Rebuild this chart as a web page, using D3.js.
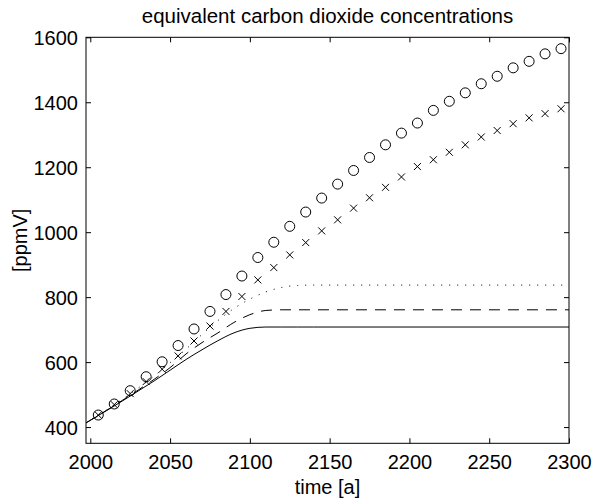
<!DOCTYPE html>
<html>
<head>
<meta charset="utf-8">
<script src="https://cdn.jsdelivr.net/npm/d3@7"></script>
<style>
  body { margin: 0; background: #fff; }
  svg { display: block; font-family: "Liberation Sans", Arial, Helvetica, sans-serif; }
</style>
</head>
<body>
<svg></svg>
<script>
// marker series, one point every 10 years
const markerYears = [2005, 2015, 2025, 2035, 2045, 2055, 2065, 2075, 2085, 2095,
                     2105, 2115, 2125, 2135, 2145, 2155, 2165, 2175, 2185, 2195,
                     2205, 2215, 2225, 2235, 2245, 2255, 2265, 2275, 2285, 2295];
const circleValues = [437, 471, 512, 555, 601, 651, 702, 756, 808, 865,
                      922, 969, 1018, 1062, 1105, 1148, 1190, 1230, 1269, 1305,
                      1336, 1375, 1403, 1429, 1457, 1480, 1506, 1526, 1549, 1565];
const crossValues = [437, 469, 503, 540, 578, 619, 665, 711, 756, 802,
                     853, 891, 930, 968, 1004, 1038, 1074, 1106, 1138, 1170,
                     1202, 1223, 1246, 1269, 1293, 1313, 1334, 1352, 1365, 1380];

// line series
const lineYears = [1997, 2010, 2020, 2030, 2040, 2050, 2060, 2070, 2080, 2090,
                   2100, 2110, 2120, 2130, 2140, 2300];
const solidValues = [412, 450, 480, 511, 542, 575, 608, 638, 666, 690,
                     704, 708, 708, 708, 708, 708];
const dashedValues = [412, 451, 482, 514, 547, 583, 625, 660, 690, 722,
                      746, 759, 761, 761, 761, 761];
const dottedValues = [412, 452, 485, 520, 557, 598, 640, 685, 728, 765,
                      794, 816, 830, 836, 837, 837];

const xTicks = [2000, 2050, 2100, 2150, 2200, 2250, 2300];
const yTicks = [400, 600, 800, 1000, 1200, 1400, 1600];

const titleText = "equivalent carbon dioxide concentrations";
const xLabel = "time [a]";
const yLabel = "[ppmV]";

drawChart();

function drawChart(){
    const width = 593;
    const height = 499;
    const left = 86, right = 569, top = 37.3, bottom = 443.3;
    const tickLen = 5;
    const fontSize = 20;

    const svg = d3.select("svg")
                    .attr("width", width)
                    .attr("height", height);

    const x = d3.scaleLinear()
                .domain([1997.3, 2300])
                .range([left, right]);

    const y = d3.scaleLinear()
                .domain([350, 1600])
                .range([bottom, top]);

    svg.append("clipPath")
        .attr("id", "plot-clip")
        .append("rect")
        .attr("x", left)
        .attr("y", top)
        .attr("width", right - left)
        .attr("height", bottom - top);

    //axes with inward ticks on all four sides
    const axisStyle = g => {
        g.select(".domain").remove();
        g.selectAll("line").attr("stroke", "#000").attr("stroke-width", 1);
        g.selectAll("text").attr("fill", "#000").style("font-size", fontSize + "px").attr("font-family", null);
    };

    svg.append("g")
        .attr("transform", `translate(0, ${bottom})`)
        .call(d3.axisBottom(x).tickValues(xTicks).tickFormat(d3.format("d")).tickSize(-tickLen).tickPadding(10))
        .call(axisStyle)
        .selectAll("text")
        .attr("y", 25.5)
        .attr("dy", null);

    svg.append("g")
        .attr("transform", `translate(0, ${top})`)
        .call(d3.axisTop(x).tickValues(xTicks).tickSize(-tickLen).tickFormat(""))
        .call(axisStyle);

    svg.append("g")
        .attr("transform", `translate(${left}, 0)`)
        .call(d3.axisLeft(y).tickValues(yTicks).tickFormat(d3.format("d")).tickSize(-tickLen).tickPadding(8))
        .call(axisStyle)
        .selectAll("text")
        .attr("dy", "0.36em");

    svg.append("g")
        .attr("transform", `translate(${right}, 0)`)
        .call(d3.axisRight(y).tickValues(yTicks).tickSize(-tickLen).tickFormat(""))
        .call(axisStyle);

    //box around the plot
    svg.append("rect")
        .attr("x", left)
        .attr("y", top)
        .attr("width", right - left)
        .attr("height", bottom - top)
        .attr("fill", "none")
        .attr("stroke", "#000")
        .attr("stroke-width", 1);

    //lines
    const line = d3.line()
                    .x(d => x(d[0]))
                    .y(d => y(d[1]))
                    .curve(d3.curveMonotoneX);

    const lines = [
        {values: solidValues, dash: null},
        {values: dashedValues, dash: "11,8"},
        {values: dottedValues, dash: "1,7"}
    ];

    const plot = svg.append("g").attr("clip-path", "url(#plot-clip)");

    plot.selectAll("path.series")
        .data(lines)
        .enter()
        .append("path")
        .attr("class", "series")
        .attr("d", d => line(lineYears.map((yr, i) => [yr, d.values[i]])))
        .attr("fill", "none")
        .attr("stroke", "#000")
        .attr("stroke-width", 1)
        .attr("stroke-dasharray", d => d.dash);

    //circle markers
    plot.selectAll("circle.o")
        .data(markerYears.map((yr, i) => [yr, circleValues[i]]))
        .enter()
        .append("circle")
        .attr("class", "o")
        .attr("cx", d => x(d[0]))
        .attr("cy", d => y(d[1]))
        .attr("r", 5)
        .attr("fill", "none")
        .attr("stroke", "#000")
        .attr("stroke-width", 1);

    //cross markers
    const s = 3.5;
    plot.selectAll("path.x")
        .data(markerYears.map((yr, i) => [yr, crossValues[i]]))
        .enter()
        .append("path")
        .attr("class", "x")
        .attr("d", d => {
            const cx = x(d[0]), cy = y(d[1]);
            return `M${cx - s},${cy - s}L${cx + s},${cy + s}M${cx - s},${cy + s}L${cx + s},${cy - s}`;
        })
        .attr("stroke", "#000")
        .attr("stroke-width", 1);

    //title and axis labels
    svg.append("text")
        .attr("x", (left + right) / 2)
        .attr("y", 23)
        .attr("text-anchor", "middle")
        .style("font-size", "20.5px")
        .text(titleText);

    svg.append("text")
        .attr("x", (left + right) / 2)
        .attr("y", 494)
        .attr("text-anchor", "middle")
        .style("font-size", fontSize + "px")
        .text(xLabel);

    svg.append("text")
        .attr("transform", `translate(27, ${(top + bottom) / 2}) rotate(-90)`)
        .attr("text-anchor", "middle")
        .style("font-size", fontSize + "px")
        .text(yLabel);
}
</script>
</body>
</html>
